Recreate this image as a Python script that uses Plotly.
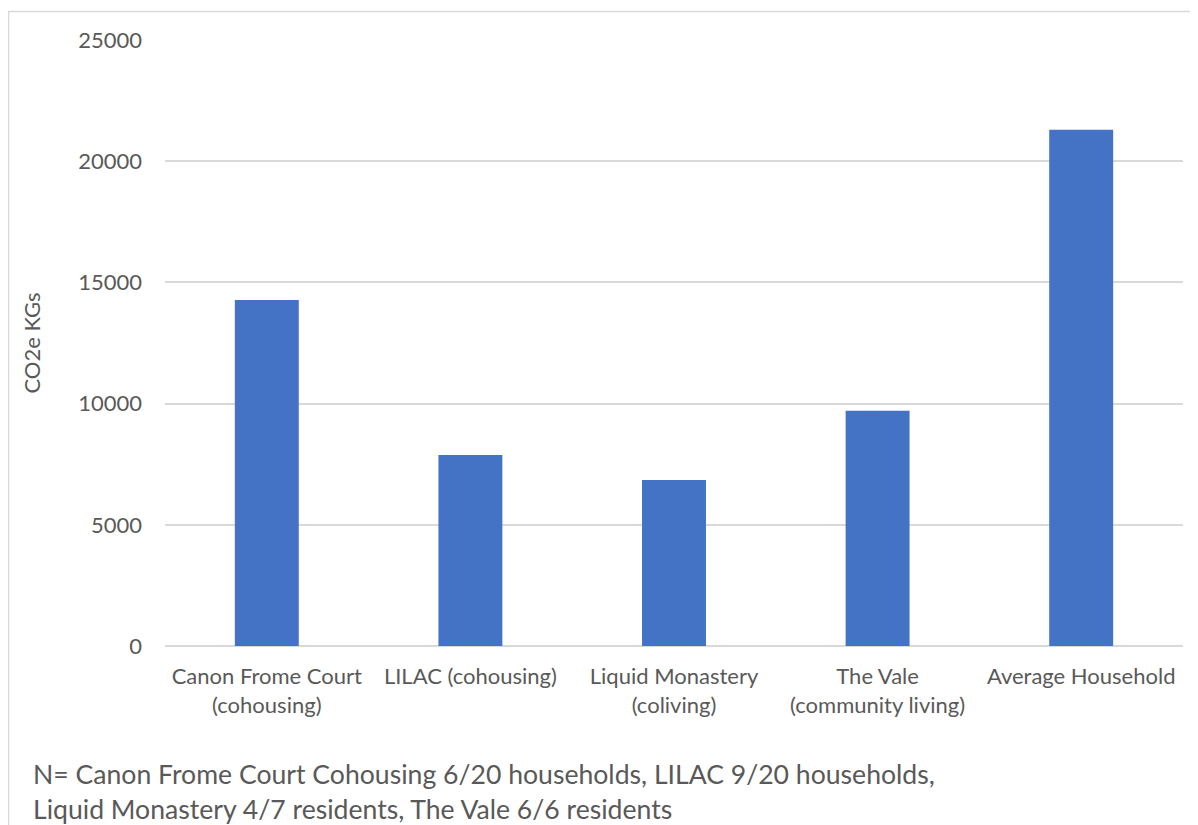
import plotly.graph_objects as go

categories = [
    "Canon Frome Court<br>(cohousing)",
    "LILAC (cohousing)",
    "Liquid Monastery<br>(coliving)",
    "The Vale<br>(community living)",
    "Average Household",
]
values = [14270, 7880, 6850, 9700, 21300]
y_ticks = [0, 5000, 10000, 15000, 20000, 25000]
y_title = "CO2e KGs"
footnote = ("N= Canon Frome Court Cohousing 6/20 households, LILAC 9/20 households,<br>"
            "Liquid Monastery 4/7 residents, The Vale 6/6 residents")

FONT = "Lato, Open Sans, sans-serif"
GREY = "#595959"

fig = go.Figure(go.Bar(x=categories, y=values, marker=dict(color="#4472C4", line=dict(width=0)),
                       width=0.314))

# page has an 8px body margin; figure is offset accordingly
OFF = 8
W, H = 1198 - OFF, 825 - OFF
ml, mr, mt, mb = 165 - OFF, 15, 40 - OFF, 179
pw, ph = W - ml - mr, H - mt - mb

def px_x(p):
    return (p - OFF - ml) / pw

def px_y(p):
    return (H - mb - (p - OFF)) / ph

fig.update_layout(
    width=W, height=H,
    margin=dict(l=ml, r=mr, t=mt, b=mb, autoexpand=False),
    paper_bgcolor="white", plot_bgcolor="white",
    font=dict(family=FONT, color=GREY, size=22),
    showlegend=False,
    xaxis=dict(showgrid=False, showline=False, ticks="", tickfont=dict(size=22, color=GREY),
               ticklabelstandoff=15, automargin=False),
    yaxis=dict(range=[0, 25000], tickvals=y_ticks, tickformat="d", showgrid=True,
               gridcolor="#d9d9d9", gridwidth=1.5,
               zeroline=True, zerolinecolor="#d9d9d9", zerolinewidth=1.5,
               ticks="", tickfont=dict(size=22, color=GREY), ticklabelstandoff=22, automargin=False,
               title=dict(text=y_title, font=dict(size=22, color=GREY), standoff=31)),
    shapes=[dict(type="rect", xref="paper", yref="paper",
                 x0=px_x(8.5), x1=px_x(1230), y0=px_y(900), y1=px_y(11.5),
                 line=dict(color="#d9d9d9", width=1.5), fillcolor="rgba(0,0,0,0)", layer="below")],
    annotations=[dict(text=footnote, xref="paper", yref="paper", x=px_x(31), y=px_y(756),
                      xanchor="left", yanchor="top", align="left", showarrow=False,
                      font=dict(size=26.6, color=GREY, family=FONT))],
)

fig.write_html("out.html")
